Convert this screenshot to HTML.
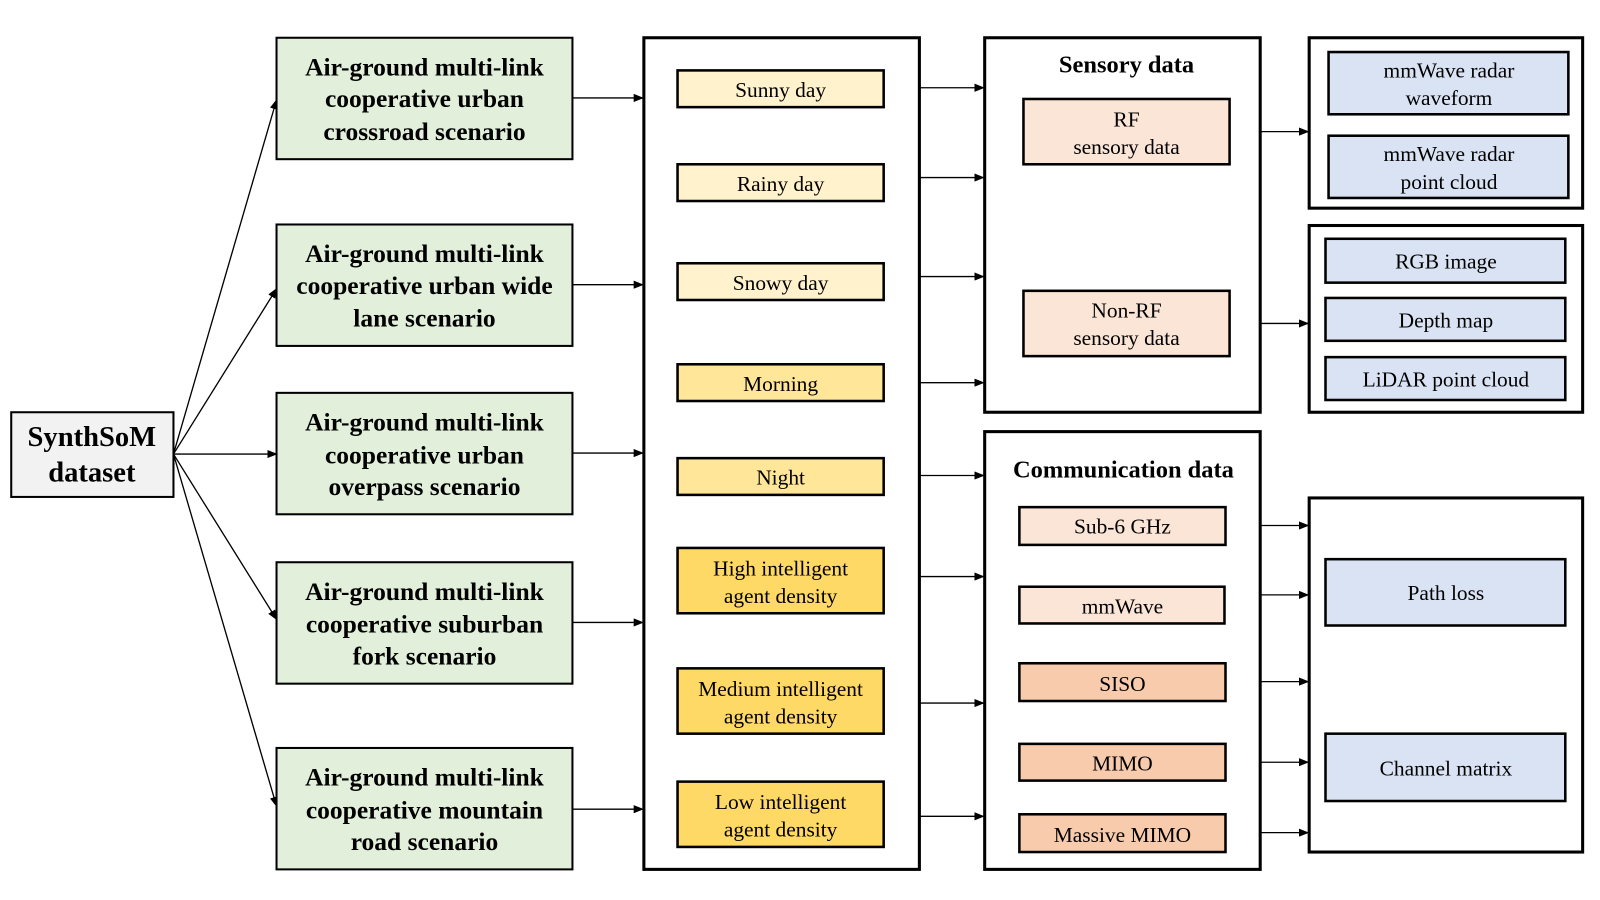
<!DOCTYPE html>
<html><head><meta charset="utf-8"><style>
html,body{margin:0;padding:0;background:#fff;}
svg{display:block;}
text{font-family:"Liberation Serif","Times New Roman",serif;fill:#000;}
</style></head><body>
<svg width="1600" height="900" viewBox="0 0 1600 900" xmlns="http://www.w3.org/2000/svg">
<defs>
<marker id="a" markerWidth="10" markerHeight="8" refX="9" refY="4" orient="auto" markerUnits="userSpaceOnUse">
<path d="M0,0 L10,4 L0,8 z" fill="#000"/></marker>
</defs>
<g transform="scale(1.0204)">
<g stroke="#000" stroke-width="1.3" fill="none" marker-end="url(#a)">
<line x1="170" y1="445" x2="271" y2="98"/>
<line x1="170" y1="445" x2="271" y2="283"/>
<line x1="170" y1="445" x2="271" y2="445"/>
<line x1="170" y1="445" x2="271" y2="607"/>
<line x1="170" y1="445" x2="271" y2="790"/>
<line x1="561" y1="96" x2="630" y2="96"/>
<line x1="561" y1="279" x2="630" y2="279"/>
<line x1="561" y1="444" x2="630" y2="444"/>
<line x1="561" y1="610" x2="630" y2="610"/>
<line x1="561" y1="793" x2="630" y2="793"/>
<line x1="901" y1="86" x2="964" y2="86"/>
<line x1="901" y1="174" x2="964" y2="174"/>
<line x1="901" y1="271" x2="964" y2="271"/>
<line x1="901" y1="375" x2="964" y2="375"/>
<line x1="901" y1="466" x2="964" y2="466"/>
<line x1="901" y1="565" x2="964" y2="565"/>
<line x1="901" y1="689" x2="964" y2="689"/>
<line x1="901" y1="800" x2="964" y2="800"/>
<line x1="1235" y1="129" x2="1282" y2="129"/>
<line x1="1235" y1="317" x2="1282" y2="317"/>
<line x1="1235" y1="515" x2="1282" y2="515"/>
<line x1="1235" y1="583" x2="1282" y2="583"/>
<line x1="1235" y1="668" x2="1282" y2="668"/>
<line x1="1235" y1="747" x2="1282" y2="747"/>
<line x1="1235" y1="816" x2="1282" y2="816"/>
</g>
<g stroke="#000" stroke-width="2">
<rect x="11" y="404" width="159" height="83" fill="#f2f2f2"/>
<rect x="271" y="37" width="290" height="119" fill="#e2efda"/>
<rect x="271" y="220" width="290" height="119" fill="#e2efda"/>
<rect x="271" y="385" width="290" height="119" fill="#e2efda"/>
<rect x="271" y="551" width="290" height="119" fill="#e2efda"/>
<rect x="271" y="733" width="290" height="119" fill="#e2efda"/>
</g>
<g stroke="#000" stroke-width="3" fill="#fff">
<rect x="631" y="37" width="270" height="815"/>
<rect x="965" y="37" width="270" height="367"/>
<rect x="965" y="423" width="270" height="429"/>
<rect x="1283" y="37" width="268" height="167"/>
<rect x="1283" y="221" width="268" height="183"/>
<rect x="1283" y="488" width="268" height="347"/>
</g>
<g stroke="#000" stroke-width="2.5">
<rect x="664" y="69" width="202" height="36" fill="#fff2cc"/>
<rect x="664" y="161" width="202" height="36" fill="#fff2cc"/>
<rect x="664" y="258" width="202" height="36" fill="#fff2cc"/>
<rect x="664" y="357" width="202" height="36" fill="#ffe699"/>
<rect x="664" y="449" width="202" height="36" fill="#ffe699"/>
<rect x="664" y="537" width="202" height="64" fill="#ffd966"/>
<rect x="664" y="655" width="202" height="64" fill="#ffd966"/>
<rect x="664" y="766" width="202" height="64" fill="#ffd966"/>
<rect x="1003" y="97" width="202" height="64" fill="#fbe5d6"/>
<rect x="1003" y="285" width="202" height="64" fill="#fbe5d6"/>
<rect x="999" y="497" width="202" height="37" fill="#fbe5d6"/>
<rect x="999" y="575" width="201" height="36" fill="#fbe5d6"/>
<rect x="999" y="650" width="202" height="37" fill="#f8cbad"/>
<rect x="999" y="729" width="202" height="36" fill="#f8cbad"/>
<rect x="999" y="798" width="202" height="37" fill="#f8cbad"/>
<rect x="1302" y="51" width="235" height="61" fill="#dae3f3"/>
<rect x="1302" y="133" width="235" height="61" fill="#dae3f3"/>
<rect x="1299" y="234" width="235" height="43" fill="#dae3f3"/>
<rect x="1299" y="292" width="235" height="42" fill="#dae3f3"/>
<rect x="1299" y="350" width="235" height="42" fill="#dae3f3"/>
<rect x="1299" y="548" width="235" height="65" fill="#dae3f3"/>
<rect x="1299" y="719" width="235" height="66" fill="#dae3f3"/>
</g>
<g text-anchor="middle">
<text font-weight="bold" x="90" y="437" font-size="28">SynthSoM</text>
<text font-weight="bold" x="90" y="472" font-size="28">dataset</text>
<g font-size="25" font-weight="bold">
<text x="416" y="74">Air-ground multi-link</text><text x="416" y="105">cooperative urban</text><text x="416" y="137">crossroad scenario</text>
<text x="416" y="257">Air-ground multi-link</text><text x="416" y="288">cooperative urban wide</text><text x="416" y="320">lane scenario</text>
<text x="416" y="422">Air-ground multi-link</text><text x="416" y="454">cooperative urban</text><text x="416" y="485">overpass scenario</text>
<text x="416" y="588">Air-ground multi-link</text><text x="416" y="620">cooperative suburban</text><text x="416" y="651">fork scenario</text>
<text x="416" y="770">Air-ground multi-link</text><text x="416" y="802">cooperative mountain</text><text x="416" y="833">road scenario</text>
</g>
<g font-size="21">
<text x="765" y="95">Sunny day</text>
<text x="765" y="187">Rainy day</text>
<text x="765" y="284">Snowy day</text>
<text x="765" y="383">Morning</text>
<text x="765" y="475">Night</text>
<text x="765" y="564">High intelligent</text><text x="765" y="591">agent density</text>
<text x="765" y="682">Medium intelligent</text><text x="765" y="709">agent density</text>
<text x="765" y="793">Low intelligent</text><text x="765" y="820">agent density</text>
<text x="1104" y="124">RF</text><text x="1104" y="151">sensory data</text>
<text x="1104" y="311">Non-RF</text><text x="1104" y="338">sensory data</text>
<text x="1100" y="523">Sub-6 GHz</text>
<text x="1100" y="601">mmWave</text>
<text x="1100" y="677">SISO</text>
<text x="1100" y="755">MIMO</text>
<text x="1100" y="825">Massive MIMO</text>
<text x="1420" y="76">mmWave radar</text><text x="1420" y="103">waveform</text>
<text x="1420" y="158">mmWave radar</text><text x="1420" y="185">point cloud</text>
<text x="1417" y="263">RGB image</text>
<text x="1417" y="321">Depth map</text>
<text x="1417" y="379">LiDAR point cloud</text>
<text x="1417" y="588">Path loss</text>
<text x="1417" y="760">Channel matrix</text>
</g>
<text font-weight="bold" x="1104" y="71" font-size="24">Sensory data</text>
<text font-weight="bold" x="1101" y="468" font-size="24">Communication data</text>
</g>
</g>
</svg>
</body></html>
